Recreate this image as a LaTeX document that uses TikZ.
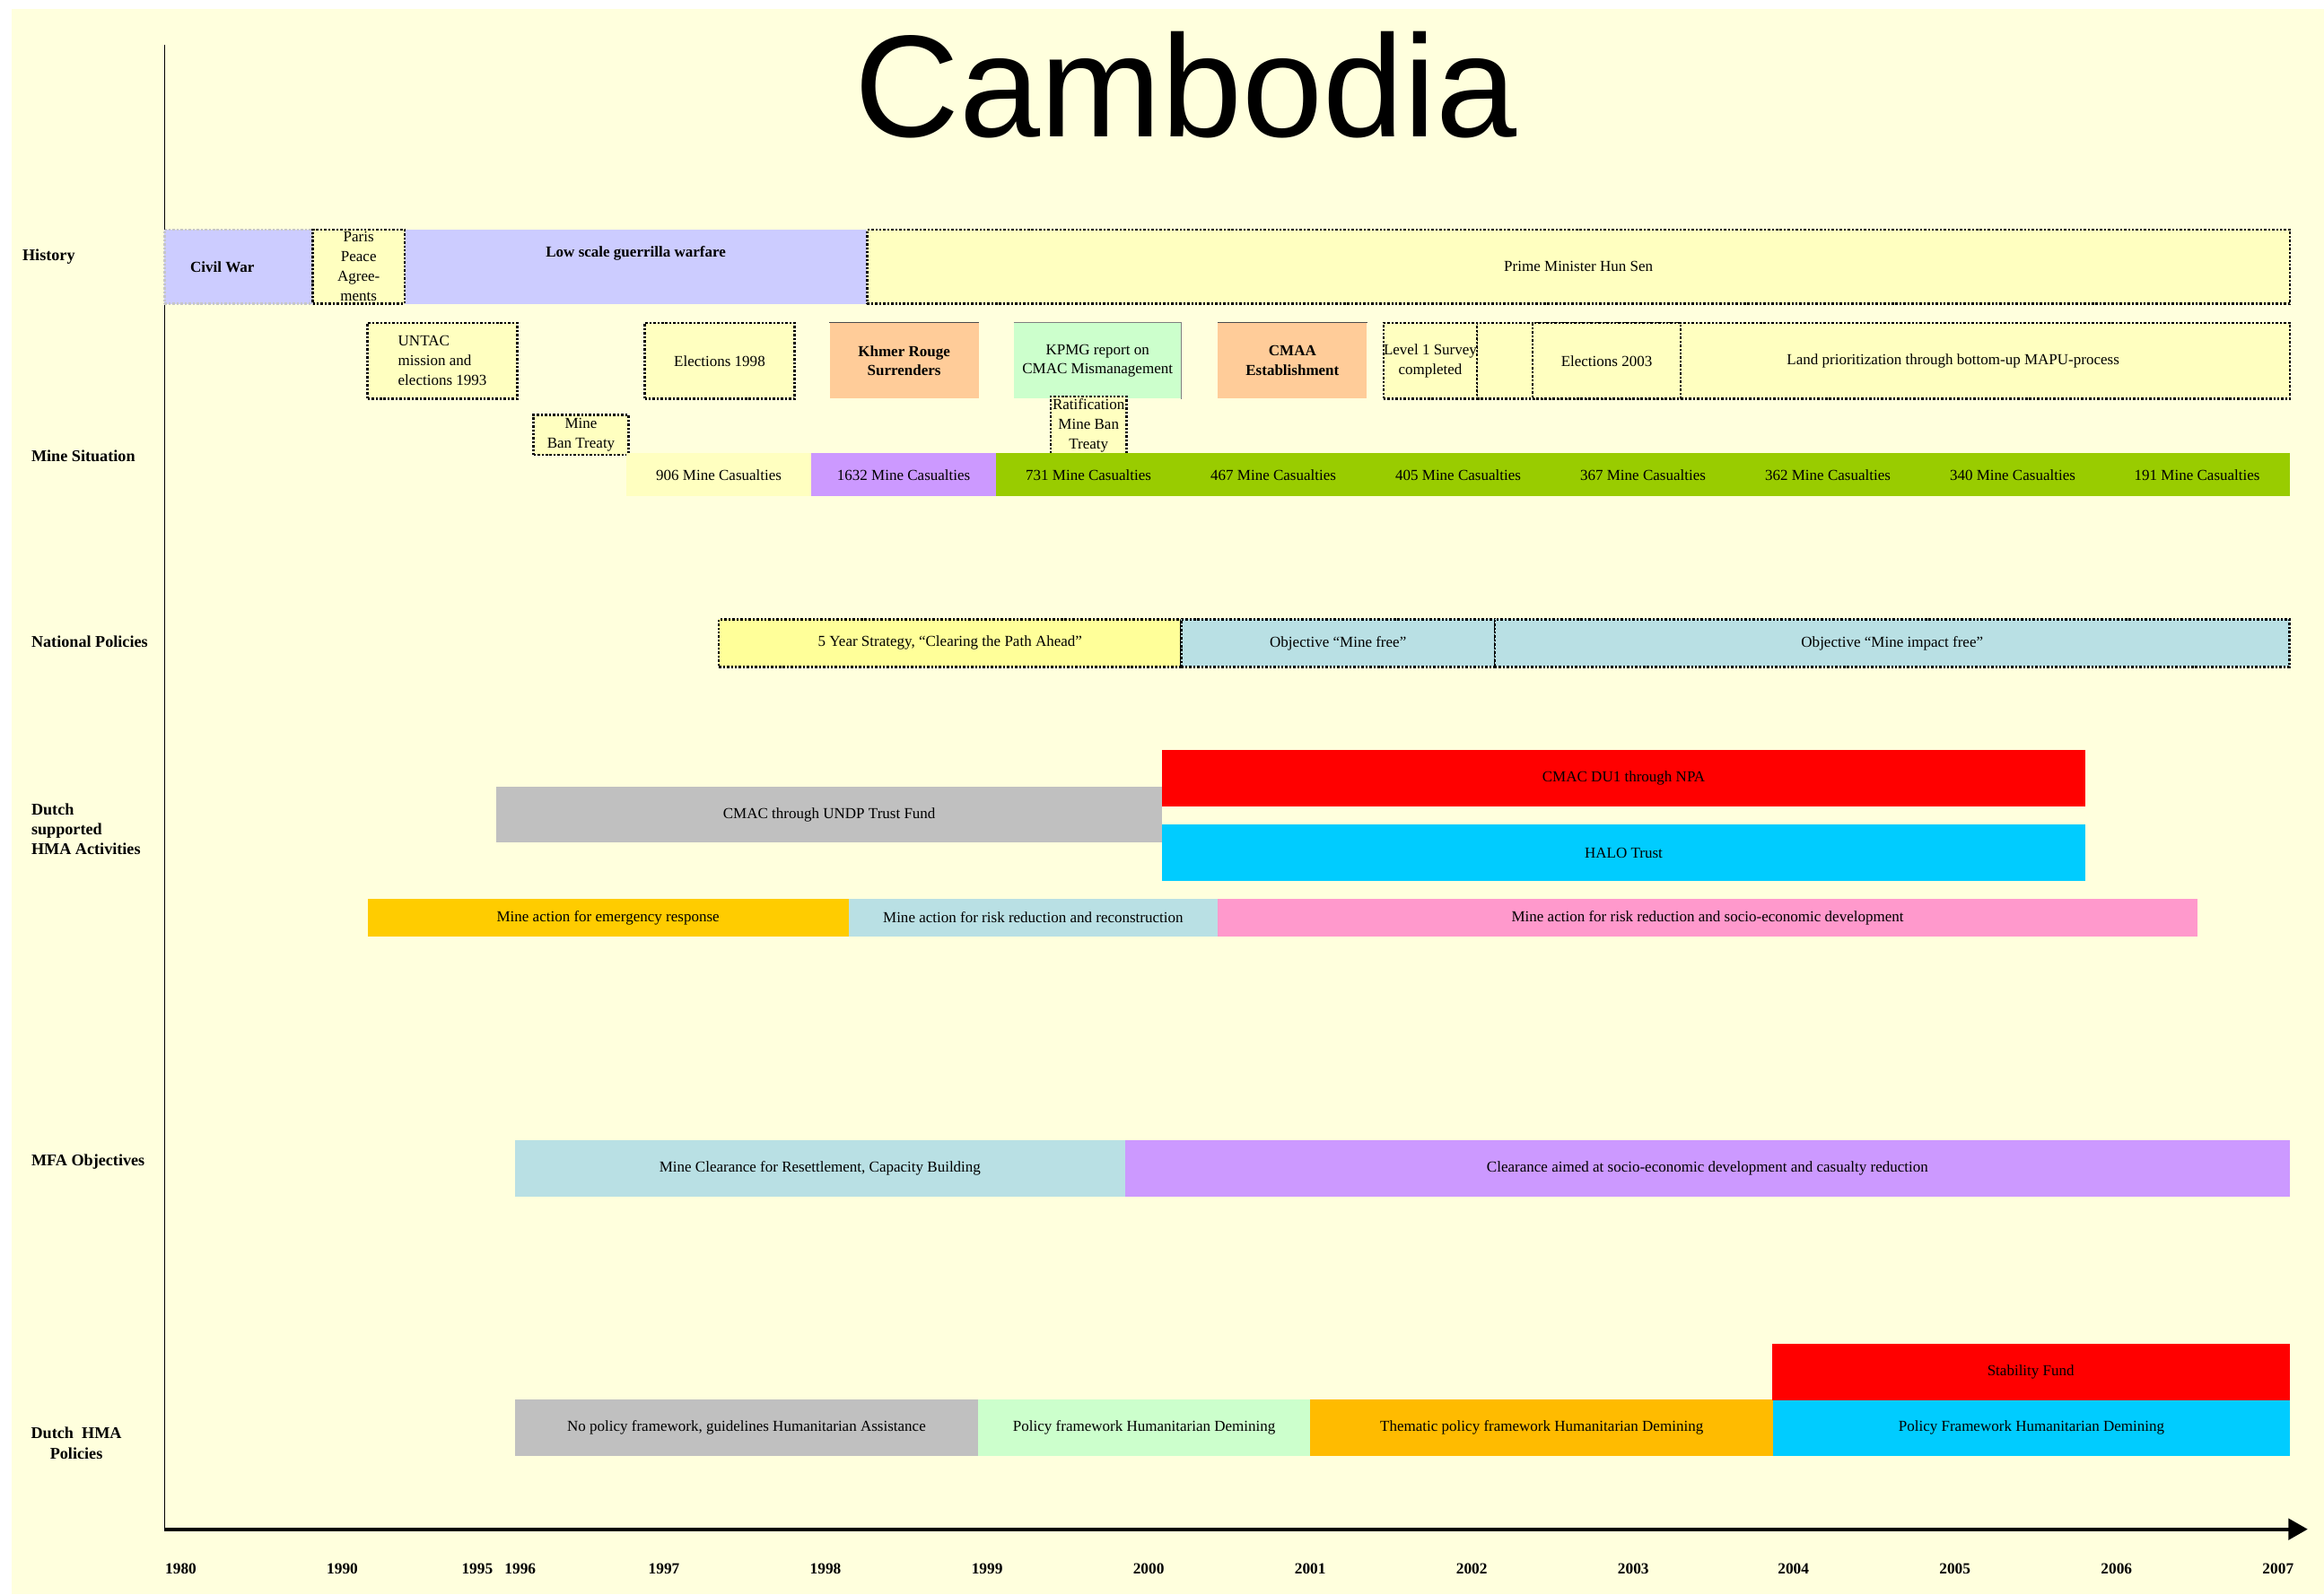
\documentclass[tikz,border=0pt]{standalone}
\usepackage{fontspec}
\setmainfont{Liberation Serif}
\newfontfamily\titlefont{Liberation Sans}
\usetikzlibrary{arrows.meta}

\definecolor{paper}{HTML}{FFFFDD}
\definecolor{lavender}{HTML}{CCCCFF}
\definecolor{paleyellow}{HTML}{FFFFC0}
\definecolor{strongyellow}{HTML}{FFFF99}
\definecolor{peach}{HTML}{FFCC99}
\definecolor{mint}{HTML}{CCFFCC}
\definecolor{lilac}{HTML}{CC99FF}
\definecolor{leaf}{HTML}{99CC00}
\definecolor{powder}{HTML}{B9E0E4}
\definecolor{silver}{HTML}{C0C0C0}
\definecolor{sky}{HTML}{00CCFF}
\definecolor{gold}{HTML}{FFCC00}
\definecolor{amber}{HTML}{FFBB00}
\definecolor{rose}{HTML}{FF99CC}

\tikzset{
  box/.style={rectangle, inner sep=0pt, align=center, font=\fontsize{10.3}{13.3}\selectfont},
  boldbox/.style={font=\fontsize{10.3}{13.3}\selectfont\bfseries},
  dotbox/.style={box, draw=black, line width=1.5pt, dash pattern=on 1.5pt off 1.2pt},
  rowname/.style={anchor=west, inner sep=0pt, align=left, font=\fontsize{11}{13.5}\selectfont\bfseries},
  yearname/.style={font=\fontsize{10.5}{12}\selectfont\bfseries},
}

\begin{document}
\begin{tikzpicture}[x=1pt,y=-1pt]
	\useasboundingbox (0,0) rectangle (1568,1076);
	\fill[paper] (8,6) rectangle (1568,1076);

	\node[font=\titlefont\fontsize{98}{100}\selectfont] (title) at (800,57) {Cambodia};

	% row names
	\node[rowname] (history) at (15,173) {History};
	\node[rowname] (minesit) at (21,308) {Mine Situation};
	\node[rowname] (natpol) at (21,433) {National Policies};
	\node[rowname] (dutchact) at (21,559.5) {Dutch\\supported\\HMA Activities};
	\node[rowname] (mfa) at (21,784) {MFA Objectives};
	\node[rowname,anchor=center,align=center] (dutchpol) at (51.5,974) {Dutch~ HMA\\Policies};

	% axes
	\coordinate (axtop) at (111,30);
	\coordinate (origin) at (111,1032);
	\coordinate (axend) at (1557,1032);
	\draw[line width=1pt] (axtop) -- (origin);
	\draw[line width=2.6pt,-{Triangle[length=13pt,width=14pt]}] (origin) -- (axend);

	% years
	\node[yearname] (y1980) at (122,1059) {1980};
	\node[yearname] (y1990) at (231,1059) {1990};
	\node[yearname] (y1995) at (322,1059) {1995};
	\node[yearname] (y1996) at (351,1059) {1996};
	\node[yearname] (y1997) at (448,1059) {1997};
	\node[yearname] (y1998) at (557,1059) {1998};
	\node[yearname] (y1999) at (666,1059) {1999};
	\node[yearname] (y2000) at (775,1059) {2000};
	\node[yearname] (y2001) at (884,1059) {2001};
	\node[yearname] (y2002) at (993,1059) {2002};
	\node[yearname] (y2003) at (1102,1059) {2003};
	\node[yearname] (y2004) at (1210,1059) {2004};
	\node[yearname] (y2005) at (1319,1059) {2005};
	\node[yearname] (y2006) at (1428,1059) {2006};
	\node[yearname] (y2007) at (1537,1059) {2007};

	% history
	\node[box,boldbox,fill=lavender,draw=gray!45,line width=1.5pt,dash pattern=on 1.5pt off 1.2pt,minimum width=100pt,minimum height=50pt] (civilwar) at (161,180) {Civil War\hspace*{22pt}};
	\node[box,boldbox,fill=lavender,minimum width=312pt,minimum height=50pt,text depth=20pt] (guerrilla) at (429,180) {Low scale guerrilla warfare};
	\node[dotbox,fill=paleyellow,minimum width=62pt,minimum height=50pt] (paris) at (242,180) {Paris\\Peace\\Agree-\\ments};
	\node[dotbox,fill=paleyellow,minimum width=960pt,minimum height=50pt] (hunsen) at (1065,180) {Prime Minister Hun Sen};

	\node[dotbox,fill=paleyellow,minimum width=101pt,minimum height=51pt,align=left] (untac) at (298.5,243.5) {UNTAC\\mission and\\elections 1993};
	\node[dotbox,fill=paleyellow,minimum width=64pt,minimum height=27pt] (mineban) at (392,293.5) {Mine\\Ban Treaty};
	\node[dotbox,fill=paleyellow,minimum width=101pt,minimum height=51pt] (elect98) at (485.5,243.5) {Elections 1998};
	\node[box,boldbox,fill=peach,minimum width=100.5pt,minimum height=51pt] (khmer) at (610,243.5) {Khmer Rouge\\Surrenders};
	\node[box,fill=mint,minimum width=113pt,minimum height=51pt] (kpmg) at (740.5,243.5) {KPMG report on\\CMAC Mismanagement};
	\node[dotbox,fill=paleyellow,minimum width=51pt,minimum height=39pt] (ratify) at (734.5,287) {Ratification\\Mine Ban\\Treaty};
	\node[box,boldbox,fill=peach,minimum width=100.5pt,minimum height=51pt] (cmaa) at (872,243.5) {CMAA\\Establishment};
	\node[dotbox,fill=paleyellow,minimum width=548.5pt,minimum height=51pt] (mapu) at (1270.75,243.5) {\hspace*{94pt}Land prioritization through bottom-up MAPU-process};
	\node[dotbox,fill=paleyellow,minimum width=63pt,minimum height=51pt] (level1) at (965,243.5) {Level 1 Survey\\completed};
	\node[dotbox,fill=paleyellow,minimum width=100pt,minimum height=51pt] (elect03) at (1084,243.5) {Elections 2003};
	\draw[gray!60!black] (khmer.north west) -- (khmer.north east);
	\draw[gray!60!black] (cmaa.north west) -- (cmaa.north east);
	\draw[gray] (kpmg.north west) -- (kpmg.north east) -- (kpmg.south east);

	% mine situation
	\node[box,fill=paleyellow,minimum width=125pt,minimum height=29.3pt] (c906) at (485,320.4) {906 Mine Casualties};
	\node[box,fill=lilac,minimum width=125pt,minimum height=29.3pt] (c1632) at (609.7,320.4) {1632 Mine Casualties};
	\node[box,fill=leaf,minimum width=125pt,minimum height=29.3pt] (c731) at (734.4,320.4) {731 Mine Casualties};
	\node[box,fill=leaf,minimum width=125pt,minimum height=29.3pt] (c467) at (859.1,320.4) {467 Mine Casualties};
	\node[box,fill=leaf,minimum width=125pt,minimum height=29.3pt] (c405) at (983.8,320.4) {405 Mine Casualties};
	\node[box,fill=leaf,minimum width=125pt,minimum height=29.3pt] (c367) at (1108.5,320.4) {367 Mine Casualties};
	\node[box,fill=leaf,minimum width=125pt,minimum height=29.3pt] (c362) at (1233.2,320.4) {362 Mine Casualties};
	\node[box,fill=leaf,minimum width=125pt,minimum height=29.3pt] (c340) at (1357.9,320.4) {340 Mine Casualties};
	\node[box,fill=leaf,minimum width=124.6pt,minimum height=29.3pt] (c191) at (1482.4,320.4) {191 Mine Casualties};

	% national policies
	\node[dotbox,fill=strongyellow,minimum width=312pt,minimum height=32pt] (strategy) at (641,434) {5 Year Strategy, “Clearing the Path Ahead”};
	\node[dotbox,fill=powder,minimum width=211.6pt,minimum height=32pt] (minefree) at (902.8,434) {Objective “Mine free”};
	\node[dotbox,fill=powder,minimum width=536.1pt,minimum height=32pt] (impactfree) at (1276.65,434) {Objective “Mine impact free”};

	% dutch supported activities
	\node[box,fill=silver,minimum width=449pt,minimum height=37.5pt] (undp) at (559.5,549.75) {CMAC through UNDP Trust Fund};
	\node[box,fill=red,minimum width=623pt,minimum height=38pt] (npa) at (1095.5,525) {CMAC DU1 through NPA};
	\node[box,fill=sky,minimum width=623pt,minimum height=38pt] (halo) at (1095.5,575.5) {HALO Trust};
	\node[box,fill=gold,minimum width=324.5pt,minimum height=25.4pt] (emergency) at (410.25,619.3) {Mine action for emergency response};
	\node[box,fill=powder,minimum width=249.1pt,minimum height=25.4pt] (reconstr) at (697.05,619.3) {Mine action for risk reduction and reconstruction};
	\node[box,fill=rose,minimum width=661pt,minimum height=25.4pt] (socioeco) at (1152.1,619.3) {Mine action for risk reduction and socio-economic development};

	% mfa objectives
	\node[box,fill=powder,minimum width=411.5pt,minimum height=37.9pt] (resettle) at (553.25,788.45) {Mine Clearance for Resettlement, Capacity Building};
	\node[box,fill=lilac,minimum width=786pt,minimum height=37.9pt] (casred) at (1152,788.45) {Clearance aimed at socio-economic development and casualty reduction};

	% dutch policies
	\node[box,fill=silver,minimum width=312.7pt,minimum height=37.9pt] (nopolicy) at (503.65,963.35) {No policy framework, guidelines Humanitarian Assistance};
	\node[box,fill=mint,minimum width=224pt,minimum height=37.9pt] (polframe) at (772,963.35) {Policy framework Humanitarian Demining};
	\node[box,fill=amber,minimum width=312.4pt,minimum height=37.9pt] (thematic) at (1040.2,963.35) {Thematic policy framework Humanitarian Demining};
	\node[box,fill=sky,minimum width=348.4pt,minimum height=37.9pt] (polfw) at (1370.6,963.35) {Policy Framework Humanitarian Demining};
	\node[box,fill=red,minimum width=349.3pt,minimum height=38pt] (stability) at (1370.15,926) {Stability Fund};
\end{tikzpicture}
\end{document}
